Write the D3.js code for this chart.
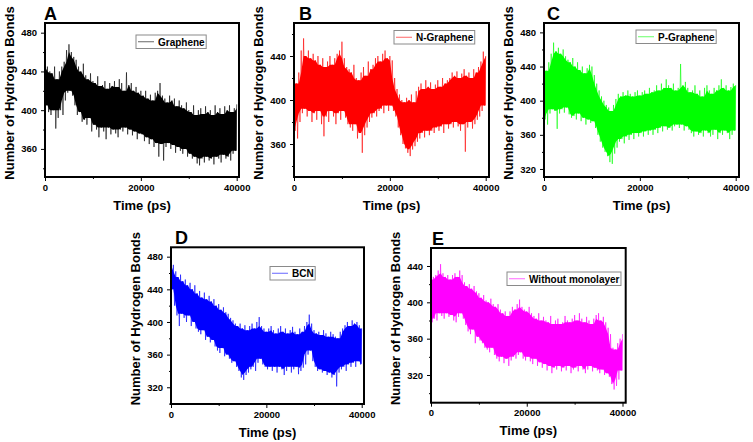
<!DOCTYPE html>
<html>
<head>
<meta charset="utf-8">
<script src="https://cdn.jsdelivr.net/npm/d3@7"></script>
<style>
  body { margin: 0; background: #fff; }
  svg { display: block; font-family: Arial, "Liberation Sans", sans-serif; }
</style>
</head>
<body>
<script>
// Number of hydrogen bonds.
// hi* = upper spikes at t = 0, 500, ..., 40000 ps
// lo* = lower spikes at t = 250, 750, ..., 39750 ps
const hiA = [470,445,440,438, 445,432,440,445, 450,462,468,460, 455,452,445,440, 448,436,432,438,
             430,428,435,425, 426,430,422,428, 425,430,424,432, 428,420,439,426, 428,420,424,418,
             420,415,420,412, 416,410,418,420, 428,415,412,408, 415,410,412,404, 410,405,402,408,
             400,398,405,395, 400,402,396,404, 398,400,395,405, 398,402,396,404, 400,405,398,402, 406];
const loA = [405,398,395,400, 381,392,400,395, 410,418,420,415, 405,395,398,388, 390,385,392,378,
             385,380,372,382, 378,370,382,375, 380,376,372,380, 378,382,375,380, 374,378,370,376,
             375,368,372,365, 370,362,366,352, 365,348,362,366, 360,364,356,362, 358,355,360,352,
             355,350,352,345, 343,350,346,352, 348,350,344,352, 350,346,354,350, 352,348,355,358];

const hiB = [420,415,425,445, 456,440,445,438, 442,436,440,432, 438,430,435,440, 432,438,442,445,
             453,438,430,428, 425,432,420,418, 425,430,422,435, 428,432,438,440, 435,442,445,438,
             440,436,420,410, 405,400,398,402, 400,405,398,408, 412,415,410,418, 412,416,410,414,
             418,412,420,415, 418,420,425,422, 426,420,424,428, 422,425,420,428, 425,430,435,444, 440];
const loB = [372,365,380,388, 392,385,390,380, 388,382,390,378, 367,385,380,390, 385,378,388,382,
             390,384,378,375, 372,378,365,370, 352,368,375,380, 384,388,385,390, 392,388,395,390,
             395,390,385,375, 368,360,356,352, 349,355,358,362, 365,370,366,372, 368,372,370,375,
             372,376,370,378, 374,378,375,380, 376,372,378,353, 375,380,374,378, 382,385,390,395];

const hiC = [440,435,445,455, 468,458,462,455, 460,452,448,445, 450,440,445,436, 440,432,438,442,
             440,430,420,412, 405,400,395,392, 388,395,402,408, 405,410,406,412, 408,405,410,412,
             406,410,412,408, 415,410,412,418, 412,420,415,425, 418,415,420,412, 415,443,418,422,
             415,410,412,418, 408,412,405,415, 418,412,408,415, 412,418,425,415, 418,412,416,420, 418];
const loC = [378,372,385,390, 388,367,385,390, 386,392,384,380, 382,378,385,376, 380,372,378,374,
             376,368,360,352, 345,340,335,328, 326,338,345,352, 355,350,358,354, 360,355,362,358,
             362,358,364,360, 365,360,366,362, 368,364,370,366, 368,365,370,372, 368,372,365,370,
             366,362,358,364, 360,362,358,365, 362,358,360,366, 355,362,360,365, 362,355,360,365];

const hiD = [480,470,462,455, 458,450,452,445, 448,440,445,435, 438,430,436,428, 432,425,428,420,
             422,415,418,412, 410,405,402,398, 395,398,392,396, 390,395,398,392, 400,406,395,392,
             388,392,395,390, 386,392,395,388, 392,386,390,394, 388,385,392,388, 395,400,409,398,
             390,386,388,384, 390,386,382,388, 385,382,380,388, 392,396,400,395, 402,398,400,396, 392];
const loD = [440,420,408,395, 410,405,400,408, 395,400,392,388, 385,390,378,382, 375,378,370,365,
             362,368,358,360, 355,350,352,345, 340,332,329,335, 338,342,345,340, 350,355,348,345,
             342,345,340,345, 338,345,342,335, 340,345,338,342, 345,336,340,344, 348,360,365,352,
             345,340,342,338, 340,335,338,332, 335,321,338,342, 345,340,348,345, 350,345,352,348];

const hiE = [425,428,430,435, 442,432,428,430, 425,430,432,428, 435,430,422,418, 420,415,418,412,
             410,405,408,402, 400,404,398,395, 398,392,388,390, 385,390,395,392, 398,403,395,392,
             390,395,388,385, 382,388,380,384, 380,378,385,376, 380,382,376,378, 385,380,378,382,
             386,380,388,382, 378,384,380,376, 382,386,388,380, 384,378,372,365, 350,348,355,360, 365];
const loE = [378,382,380,388, 385,382,388,384, 386,380,378,384, 388,382,375,368, 365,370,355,362,
             358,355,350,348, 345,350,342,338, 335,340,333,338, 330,336,340,338, 342,345,338,336,
             340,335,332,338, 330,334,328,332, 325,330,322,328, 326,330,324,328, 325,330,322,326,
             328,324,330,326, 322,326,330,324, 328,325,322,326, 320,322,318,310, 304,308,315,325];

const yTicksA = [360, 400, 440, 480];
const yTicksB = [360, 400, 440];
const yTicksC = [320, 360, 400, 440, 480];
const yTicksD = [320, 360, 400, 440, 480];
const yTicksE = [320, 360, 400, 440];
const xTicks = [0, 20000, 40000];
const xMinor = [10000, 30000];

const panels = [
  { letter: "A", name: "Graphene", color: "#000000", hi: hiA, lo: loA, yTicks: yTicksA, yDom: [331, 490],
    x0: 45, x40: 236.7, right: 239, top: 23, bottom: 177, letterX: 44, labelX: 9.5, legX: 136, legY: 35 },
  { letter: "B", name: "N-Graphene", color: "#ff0000", hi: hiB, lo: loB, yTicks: yTicksB, yDom: [330, 470],
    x0: 294, x40: 485.7, right: 489, top: 23, bottom: 177, letterX: 299, labelX: 258.5, legX: 394, legY: 30.5 },
  { letter: "C", name: "P-Graphene", color: "#00ff00", hi: hiC, lo: loC, yTicks: yTicksC, yDom: [310.6, 491],
    x0: 544, x40: 735.7, right: 739, top: 23, bottom: 177, letterX: 547, labelX: 508, legX: 636, legY: 30 },
  { letter: "D", name: "BCN", color: "#0000ff", hi: hiD, lo: loD, yTicks: yTicksD, yDom: [299.5, 491.5],
    x0: 171, x40: 361.7, right: 364, top: 247.3, bottom: 404, letterX: 175, labelX: 135, legX: 270, legY: 266.5 },
  { letter: "E", name: "Without monolayer", color: "#ff00ff", hi: hiE, lo: loE, yTicks: yTicksE, yDom: [289.5, 459.8],
    x0: 431, x40: 622.5, right: 625.7, top: 248, bottom: 402.7, letterX: 432, labelX: 395, legX: 507, legY: 272 }
];

const svg = d3.select("body").append("svg")
  .attr("width", 753)
  .attr("height", 442);

panels.forEach(p => {
  const x = d3.scaleLinear().domain([0, 40000]).range([p.x0, p.x40]);
  const y = d3.scaleLinear().domain(p.yDom).range([p.bottom, p.top]);
  const g = svg.append("g");

  // dense core of the trace: tightest spikes among neighbours
  const core = p.hi.map((v, i) => {
    const a = Math.max(0, i - 1);
    return [i * 500,
      d3.min(p.hi.slice(a, i + 2)),
      d3.max(p.lo.slice(a, Math.min(p.lo.length, i + 2)))];
  });
  g.append("path")
    .datum(core)
    .attr("fill", p.color)
    .attr("d", d3.area().x(d => x(d[0])).y0(d => y(d[2])).y1(d => y(d[1])));

  // zigzag through upper and lower spikes
  const pts = [];
  p.hi.forEach((v, i) => {
    pts.push([i * 500, v]);
    if (i < p.lo.length) pts.push([i * 500 + 250, p.lo[i]]);
  });

  g.append("path")
    .datum(pts)
    .attr("fill", "none")
    .attr("stroke", p.color)
    .attr("stroke-opacity", 0.75)
    .attr("stroke-width", 0.8)
    .attr("stroke-linejoin", "miter")
    .attr("d", d3.line().x(d => x(d[0])).y(d => y(d[1])));

  // minor ticks
  const yMinor = d3.range(Math.ceil(p.yDom[0] / 20) * 20, p.yDom[1], 20).filter(v => v % 40 !== 0);
  g.append("g")
    .attr("transform", `translate(${p.x0},0)`)
    .call(d3.axisLeft(y).tickValues(yMinor).tickSize(2).tickFormat(""))
    .call(a => a.select(".domain").remove());
  g.append("g")
    .attr("transform", `translate(0,${p.bottom})`)
    .call(d3.axisBottom(x).tickValues(xMinor).tickSize(2).tickFormat(""))
    .call(a => a.select(".domain").remove());

  // major ticks
  const yAx = g.append("g")
    .attr("transform", `translate(${p.x0},0)`)
    .call(d3.axisLeft(y).tickValues(p.yTicks).tickSize(4).tickPadding(4));
  const xAx = g.append("g")
    .attr("transform", `translate(0,${p.bottom})`)
    .call(d3.axisBottom(x).tickValues(xTicks).tickSize(4).tickPadding(3).tickFormat(d3.format("d")));
  [yAx, xAx].forEach(a => {
    a.select(".domain").remove();
    a.selectAll("text")
      .attr("font-family", "Arial, 'Liberation Sans', sans-serif")
      .attr("font-size", "9.5px")
      .attr("font-weight", "bold")
      .attr("fill", "#000");
  });
  g.selectAll(".tick line").attr("stroke", "#000");

  // frame
  g.append("rect")
    .attr("x", p.x0)
    .attr("y", p.top)
    .attr("width", p.right - p.x0)
    .attr("height", p.bottom - p.top)
    .attr("fill", "none")
    .attr("stroke", "#000")
    .attr("stroke-width", 2);

  // panel letter
  g.append("text")
    .attr("x", p.letterX)
    .attr("y", p.top - 3)
    .attr("font-size", "18px")
    .attr("font-weight", "bold")
    .attr("fill", "#000")
    .text(p.letter);

  // axis titles
  g.append("text")
    .attr("text-anchor", "middle")
    .attr("x", (p.x0 + p.right) / 2)
    .attr("y", p.bottom + 32.5)
    .attr("font-size", "13px")
    .attr("font-weight", "bold")
    .attr("fill", "#000")
    .text("Time (ps)");

  g.append("text")
    .attr("text-anchor", "middle")
    .attr("dy", "0.35em")
    .attr("transform", `translate(${p.labelX},${(p.top + p.bottom) / 2 - 7}) rotate(-90)`)
    .attr("font-size", "13px")
    .attr("font-weight", "bold")
    .attr("fill", "#000")
    .text("Number of Hydrogen Bonds");

  // legend
  const leg = g.append("g");
  const box = leg.append("rect")
    .attr("x", p.legX)
    .attr("y", p.legY)
    .attr("height", 13.5)
    .attr("fill", "#fff")
    .attr("stroke", "#8a8a8a")
    .attr("stroke-width", 1);
  leg.append("line")
    .attr("x1", p.legX + 2)
    .attr("x2", p.legX + 18)
    .attr("y1", p.legY + 6.75)
    .attr("y2", p.legY + 6.75)
    .attr("stroke", p.color)
    .attr("stroke-opacity", 0.6)
    .attr("stroke-width", 1);
  const lt = leg.append("text")
    .attr("x", p.legX + 22)
    .attr("y", p.legY + 10.5)
    .attr("font-size", "10px")
    .attr("font-weight", "bold")
    .attr("fill", "#000")
    .text(p.name);
  box.attr("width", 22 + lt.node().getComputedTextLength() + 1.5);
});
</script>
</body>
</html>
